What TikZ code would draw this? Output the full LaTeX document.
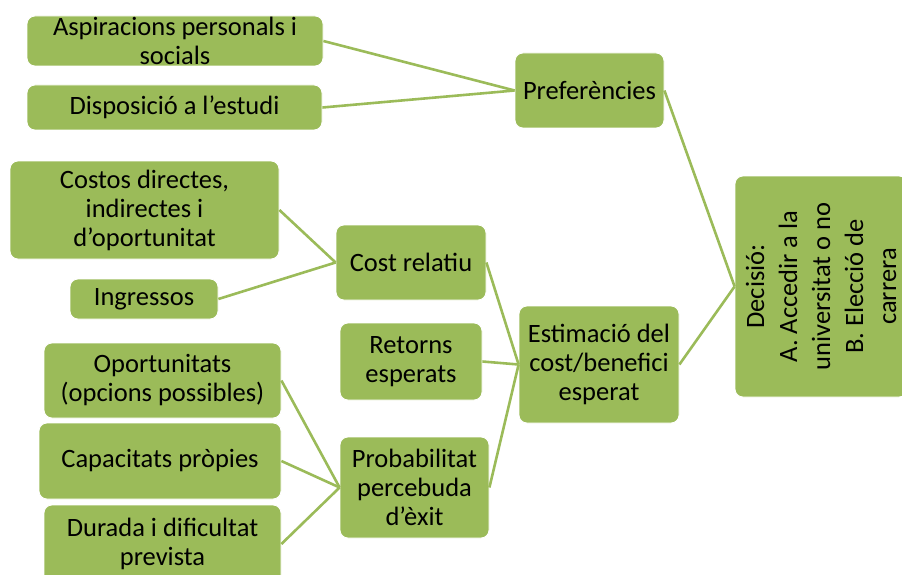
\documentclass[tikz,border=0pt]{standalone}
\usepackage{fontspec}
\setmainfont{Carlito}
\definecolor{boxgreen}{HTML}{9BBB59}

\begin{document}
\begin{tikzpicture}[x=1pt,y=-1pt,
		box/.style={draw=white,line width=0.8pt,fill=boxgreen,rounded corners=8pt,inner sep=0pt,align=center,font=\fontsize{26.5}{29}\selectfont},
		link/.style={draw=boxgreen,line width=2.6pt}]
		\useasboundingbox (0,0) rectangle (902,575);
		\clip (0,0) rectangle (902,575);

		% left column
		\node[box,minimum width=296pt,minimum height=50pt] (asp) at (175,41) {Aspiracions personals i\\socials};
		\node[box,minimum width=295pt,minimum height=45pt] (disp) at (174.5,107.5) {Disposició a l’estudi};
		\node[box,minimum width=269pt,minimum height=98pt] (cost) at (144.5,210) {Costos directes,\\indirectes i\\d’oportunitat};
		\node[box,minimum width=148pt,minimum height=40pt] (ingr) at (144,299) {Ingressos};
		\node[box,minimum width=237pt,minimum height=75pt] (oport) at (162.5,380.5) {Oportunitats\\(opcions possibles)};
		\node[box,minimum width=242pt,minimum height=76pt] (capac) at (160,461) {Capacitats pròpies};
		\node[box,minimum width=237pt,minimum height=78pt] (dur) at (162.5,544) {Durada i dificultat\\prevista};

		% middle column
		\node[box,minimum width=150pt,minimum height=75pt] (crel) at (411,262.5) {Cost relatiu};
		\node[box,minimum width=142pt,minimum height=77pt] (ret) at (411,361.5) {Retorns\\esperats};
		\node[box,minimum width=149pt,minimum height=101pt] (prob) at (414.5,487.5) {Probabilitat\\percebuda\\d’èxit};

		% right column
		\node[box,minimum width=149pt,minimum height=75pt] (pref) at (589.5,90.5) {Preferències};
		\node[box,minimum width=160pt,minimum height=117pt] (est) at (599,364.5) {Estimació del\\cost/benefici\\esperat};
		\node[box,rotate=90,minimum width=221pt,minimum height=172pt,font=\fontsize{26.5}{33}\selectfont] (dec) at (821,286.5) {Decisió:\\A. Accedir a la\\universitat o no\\B. Elecció de\\carrera};

		% links
		\draw[link] (asp.east) -- (pref.west);
		\draw[link] (disp.east) -- (pref.west);
		\draw[link] (cost.east) -- (crel.west);
		\draw[link] (ingr.east) -- (crel.west);
		\draw[link] (oport.east) -- (prob.west);
		\draw[link] (capac.east) -- (prob.west);
		\draw[link] (dur.east) -- (prob.west);
		\draw[link] (crel.east) -- (est.west);
		\draw[link] (ret.east) -- (est.west);
		\draw[link] (prob.east) -- (est.west);
		\draw[link] (pref.east) -- (dec.north);
		\draw[link] (est.east) -- (dec.north);
\end{tikzpicture}
\end{document}
